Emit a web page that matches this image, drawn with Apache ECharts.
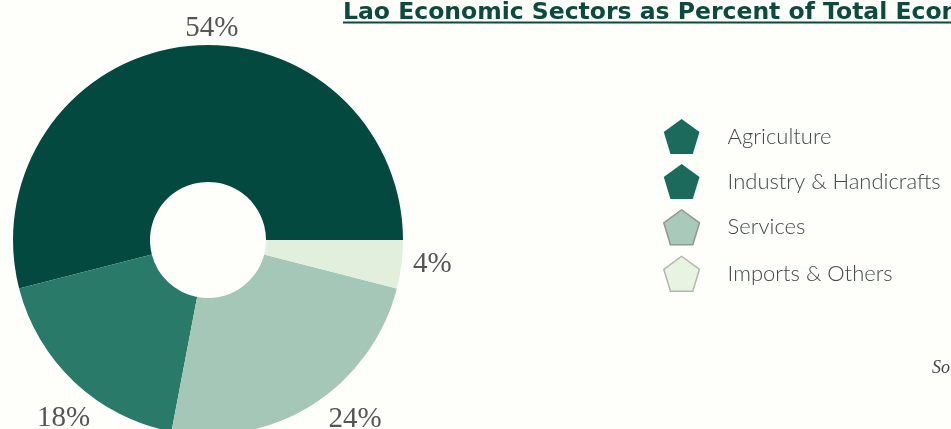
<!DOCTYPE html>
<html>
<head>
<meta charset="utf-8">
<script src="https://cdn.jsdelivr.net/npm/echarts@6/dist/echarts.min.js"></script>
<style>
  html, body { margin: 0; padding: 0; background: #fefefb; }
  #chart { width: 951px; height: 429px; }
</style>
</head>
<body>
<div id="chart"></div>
<script>
// Sector shares of the Lao economy (percent)
const sectors = ['Agriculture', 'Industry & Handicrafts', 'Services', 'Imports & Others'];
const shares = [54, 18, 24, 4];

// Slice fills and legend swatches
const sliceColors = ['#03493f', '#2a7a6a', '#a5c7b8', '#e2efdc'];
const swatchColors = ['#1b6a5c', '#1b6a5c', '#a9c9bb', '#e9f3e1'];
const swatchBorders = ['#1b6a5c', '#1b6a5c', '#8c9a92', '#b3b8ab'];
// Small shifts of the percent labels away from the slice mid-angle
const labelNudge = [[32, 11], [9, 15], [27, -10], [2, -4]];

const pentagon = 'path://M50,2L98,37L80,96L20,96L2,37Z';

const pieData = sectors.map((name, i) => ({
  name: name,
  value: shares[i],
  itemStyle: { color: sliceColors[i] }
}));

const chart = echarts.init(document.getElementById('chart'), null, { renderer: 'canvas' });

chart.setOption({
  backgroundColor: '#fefefb',
  animation: false,
  title: {
    text: 'Lao Economic Sectors as Percent of Total Economy',
    left: 343,
    top: 1,
    padding: 0,
    textStyle: {
      fontFamily: 'DejaVu Sans',
      fontWeight: 'bold',
      fontSize: 23.5,
      color: '#0b4a3c'
    }
  },
  legend: {
    orient: 'vertical',
    left: 658,
    top: 114,
    itemWidth: 38,
    itemHeight: 35,
    itemGap: 10,
    icon: pentagon,
    selectedMode: false,
    data: sectors.map((name, i) => ({
      name: name,
      itemStyle: {
        color: swatchColors[i],
        borderColor: swatchBorders[i],
        borderWidth: i > 1 ? 1.5 : 0
      }
    })),
    textStyle: {
      fontFamily: 'Lato',
      fontWeight: 300,
      fontSize: 22,
      color: '#3f4a48',
      padding: [0, 0, 0, 22]
    }
  },
  graphic: [
    {
      type: 'line',
      shape: { x1: 343, y1: 22.5, x2: 951, y2: 22.5 },
      style: { stroke: '#0b4a3c', lineWidth: 2 },
      silent: true
    },
    {
      type: 'text',
      left: 932,
      top: 359,
      style: {
        text: 'Source: Lao PDR',
        font: 'italic 18px "Liberation Serif"',
        fill: '#444'
      },
      silent: true
    }
  ],
  series: [
    {
      type: 'pie',
      center: [208, 240],
      radius: [58, 195],
      startAngle: 0,
      clockwise: false,
      avoidLabelOverlap: false,
      silent: true,
      label: { show: false },
      labelLine: { show: false },
      data: pieData
    },
    {
      // transparent outer ring that carries the percent labels
      type: 'pie',
      center: [208, 240],
      radius: [206, 236],
      startAngle: 0,
      clockwise: false,
      avoidLabelOverlap: false,
      silent: true,
      itemStyle: { color: 'rgba(0,0,0,0)' },
      label: {
        show: true,
        position: 'inside',
        formatter: '{c}%',
        fontFamily: 'Liberation Serif',
        fontSize: 29,
        color: '#555555'
      },
      labelLine: { show: false },
      labelLayout: function (params) {
        const n = labelNudge[params.dataIndex];
        return { dx: n[0], dy: n[1] };
      },
      data: sectors.map((name, i) => ({ name: name, value: shares[i] }))
    }
  ]
});
</script>
</body>
</html>
